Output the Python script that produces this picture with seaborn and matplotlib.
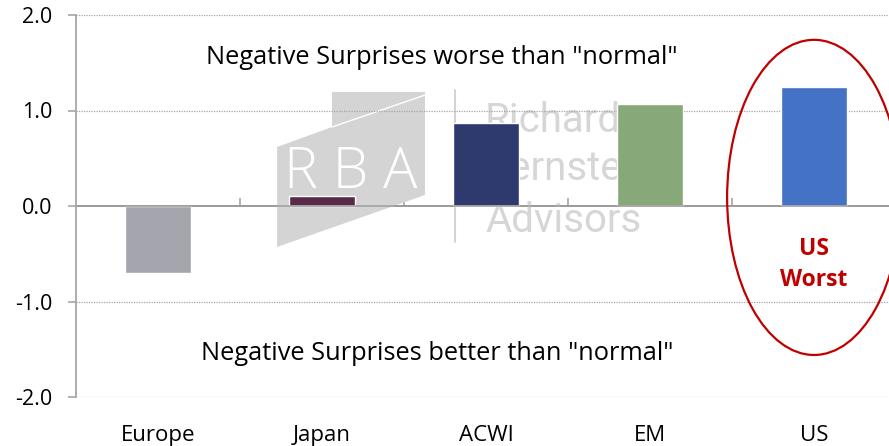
import matplotlib
matplotlib.use("Agg")
import matplotlib.pyplot as plt
from matplotlib.patches import Ellipse, Polygon
import seaborn as sns
import pandas as pd

categories = ["Europe", "Japan", "ACWI", "EM", "US"]
values = [-0.70, 0.10, 0.87, 1.07, 1.25]
colors = ["#A5A6AD", "#582A48", "#2E3A6E", "#87A878", "#4472C4"]
yticks = [-2.0, -1.0, 0.0, 1.0, 2.0]
top_note = 'Negative Surprises worse than "normal"'
bottom_note = 'Negative Surprises better than "normal"'
callout = "US\nWorst"
wm_lines = ["Richard", "Bernstein", "Advisors"]

sns.set_theme(style="white")
plt.rcParams["font.family"] = ["Open Sans", "DejaVu Sans"]

fig = plt.figure(figsize=(8.89, 4.46), dpi=100)
ax = fig.add_axes([76 / 889, 1 - 397 / 446, 1 - 76 / 889, (397 - 15) / 446])

df = pd.DataFrame({"cat": categories, "val": values})

# watermark logo (behind bars)
wm = "#D4D4D4"
ax.add_patch(Polygon([[0.726, -0.429], [0.726, 0.618], [1.061, 0.827], [1.061, 1.194],
                      [1.628, 1.194], [1.628, 0.115]],
                     closed=True, facecolor=wm, edgecolor="none", zorder=0.5))
ax.plot([1.061, 1.628], [0.827, 1.162], color="white", lw=1.0, zorder=0.55)
ax.text(1.174, 0.188, "R B A", fontsize=41, color="white", ha="center", va="baseline",
        fontweight="light", zorder=0.6)
ax.plot([1.811, 1.811], [-0.377, 1.215], color=wm, lw=1.5, zorder=0.5)
for line, yb in zip(wm_lines, [0.775, 0.272, -0.272]):
    ax.text(1.994, yb, line, fontsize=29, color="#D6D6D6", ha="left", va="baseline",
            family=["Roboto", "DejaVu Sans"], zorder=0.5)

sns.barplot(data=df, x="cat", y="val", hue="cat", palette=colors, legend=False,
            width=0.4, saturation=1, ax=ax, zorder=2)

ax.set_ylim(-2.0, 2.0)
ax.set_xlim(-0.5, 4.457)
ax.set_yticks(yticks)
ax.set_yticklabels([f"{t:.1f}" for t in yticks], fontsize=15.5, color="black")
ax.set_xlabel("")
ax.set_ylabel("")

# grid
for t in yticks:
    if t != 0:
        ax.axhline(t, color="#A6A6A6", lw=0.9, ls=(0, (1, 1)), zorder=1)
ax.axhline(0, color="#A6A6A6", lw=1.3, zorder=3)

for s in ["top", "right", "bottom"]:
    ax.spines[s].set_visible(False)
ax.spines["left"].set_color("#A6A6A6")
ax.spines["left"].set_linewidth(1.3)

ax.tick_params(axis="y", which="both", direction="out", length=6, width=1.2,
               color="#A6A6A6", left=True, pad=11)
ax.tick_params(axis="x", length=0, pad=20, labelsize=16, labelcolor="black")

# category boundary ticks on the zero line
sec = ax.secondary_xaxis(0.5)
sec.set_xticks([0.5, 1.5, 2.5, 3.5])
sec.set_xticklabels([])
sec.spines["bottom"].set_visible(False)
sec.tick_params(direction="out", length=6, width=1.2, color="#A6A6A6")

# notes
ax.text(1.73, 1.56, top_note, fontsize=18.3, ha="center", va="center", color="black")
ax.text(1.70, -1.54, bottom_note, fontsize=18.3, ha="center", va="center", color="black")
ax.text(4.0, -0.61, callout, fontsize=16.5, fontweight="bold", color="#C00000",
        ha="center", va="center", linespacing=1.4)

ax.add_patch(Ellipse((4.0, 0.09), 1.06, 3.3, fill=False, edgecolor="#C00000",
                     lw=1.6, clip_on=False, zorder=4))

fig.savefig("out.png", dpi=100)
